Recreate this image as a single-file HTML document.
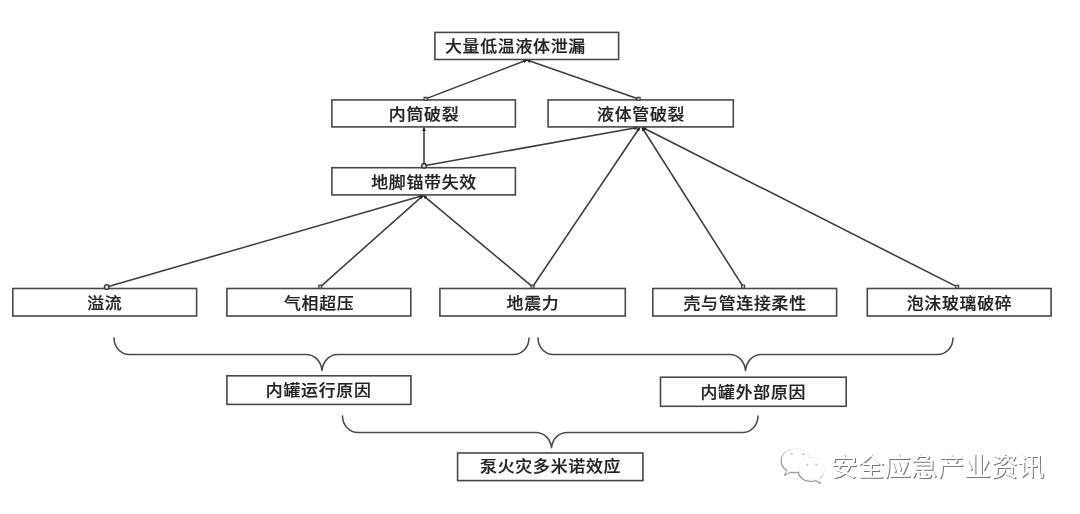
<!DOCTYPE html>
<html lang="zh-CN">
<head>
<meta charset="utf-8">
<title>泵火灾多米诺效应</title>
<style>
html,body{margin:0;padding:0;background:#fff;}
body{width:1080px;height:514px;overflow:hidden;position:relative;font-family:"Liberation Sans","Noto Sans CJK SC",sans-serif;}
svg{position:absolute;left:0;top:0;display:block;}
.bx{fill:#fff;stroke:#484848;stroke-width:1.6;}
.ln{fill:none;stroke:#3c3c3c;stroke-width:1.55;stroke-linecap:butt;marker-end:url(#ah);}
.br{fill:none;stroke:#4c4c4c;stroke-width:1.55;stroke-linecap:round;stroke-linejoin:round;}
.t{font-family:"Liberation Sans","Noto Sans CJK SC",sans-serif;font-size:16.9px;letter-spacing:0.75px;font-weight:500;fill:#222;stroke:#222;stroke-width:0.22px;text-anchor:middle;}
.ci{fill:#ddd;stroke:#333;stroke-width:1.3;}
.sq{fill:#c8c8c8;stroke:#3a3a3a;stroke-width:1.1;}
.wm{font-family:"Liberation Sans","Noto Sans CJK SC",sans-serif;font-size:26.7px;}
</style>
</head>
<body>
<svg width="1080" height="514" viewBox="0 0 1080 514">
<defs>
<marker id="ah" viewBox="0 0 10 10" refX="9.2" refY="5" markerWidth="6.2" markerHeight="3.8" markerUnits="userSpaceOnUse" orient="auto">
<path d="M0,0 L10,5 L0,10 Z" fill="#222"/>
</marker>
<filter id="soft" x="-2%" y="-2%" width="104%" height="104%"><feGaussianBlur stdDeviation="0.45"/></filter>
</defs>
<g id="diagram" filter="url(#soft)">
<g id="lines">
<line class="ln" x1="425.6" y1="98.9" x2="526.9" y2="60.0"/>
<line class="ln" x1="638.6" y1="98.9" x2="526.9" y2="60.0"/>
<line class="ln" x1="424.0" y1="165.8" x2="424.0" y2="127.6"/>
<line class="ln" x1="424.0" y1="165.8" x2="637.6" y2="127.5"/>
<line class="ln" x1="106.7" y1="287.0" x2="423.0" y2="195.6"/>
<line class="ln" x1="320.3" y1="286.8" x2="423.0" y2="195.6"/>
<line class="ln" x1="532.6" y1="286.8" x2="423.4" y2="195.6"/>
<line class="ln" x1="532.6" y1="286.8" x2="639.7" y2="127.5"/>
<line class="ln" x1="743.1" y1="286.7" x2="642.0" y2="127.5"/>
<line class="ln" x1="957.2" y1="286.9" x2="642.6" y2="127.5"/>
</g>
<g id="boxes">
<rect class="bx" x="434.9" y="32.4" width="183.7" height="27.1"/>
<rect class="bx" x="331.9" y="99.9" width="183.5" height="27.0"/>
<rect class="bx" x="548.1" y="99.9" width="185.2" height="27.0"/>
<rect class="bx" x="331.9" y="167.7" width="183.5" height="27.2"/>
<rect class="bx" x="12.8" y="288.5" width="183.8" height="27.5"/>
<rect class="bx" x="226.9" y="288.5" width="183.9" height="27.5"/>
<rect class="bx" x="439.9" y="288.5" width="185.4" height="27.5"/>
<rect class="bx" x="652.8" y="288.5" width="183.8" height="27.5"/>
<rect class="bx" x="867.3" y="288.5" width="183.8" height="27.5"/>
<rect class="bx" x="226.9" y="375.8" width="184.0" height="28.6"/>
<rect class="bx" x="660.5" y="377.2" width="185.7" height="29.1"/>
<rect class="bx" x="457.6" y="453.0" width="185.3" height="27.6"/>
</g>
<g id="markers">
<rect class="sq" x="424.1" y="97.3" width="3" height="3"/>
<rect class="sq" x="637.1" y="97.3" width="3" height="3"/>
<circle class="ci" cx="424.0" cy="165.8" r="2.3"/>
<circle class="ci" cx="106.7" cy="287.0" r="2.3"/>
<rect class="sq" x="318.8" y="285.2" width="3" height="3"/>
<rect class="sq" x="531.1" y="285.2" width="3" height="3"/>
<rect class="sq" x="741.6" y="285.1" width="3" height="3"/>
<rect class="sq" x="955.7" y="285.3" width="3" height="3"/>
</g>
<g id="braces">
<path class="br" d="M114,338 A15.5,16.5 0 0 0 129.5,354.5 L306,354.5 C315,354.5 321,361.5 322,370.4 C323,361.5 329,354.5 338,354.5 L513.5,354.5 A15.5,16.5 0 0 0 529,338"/>
<path class="br" d="M538,338 A15.5,16.5 0 0 0 553.5,354.5 L729.5,354.5 C738.5,354.5 744.5,361.5 745.5,370.4 C746.5,361.5 752.5,354.5 761.5,354.5 L937.5,354.5 A15.5,16.5 0 0 0 953,338"/>
<path class="br" d="M342.5,416 A15.5,16.5 0 0 0 358,432.5 L535.5,432.5 C544.5,432.5 550.5,439 551.5,447.6 C552.5,439 558.5,432.5 567.5,432.5 L742.5,432.5 A15.5,16.5 0 0 0 758,416"/>
</g>
<g id="labels">
<text class="t" transform="translate(515.38,46.4) scale(1,0.93)" y="6.34">大量低温液体泄漏</text>
<text class="t" transform="translate(424.02,114.3) scale(1,0.93)" y="6.34">内筒破裂</text>
<text class="t" transform="translate(641.08,114.3) scale(1,0.93)" y="6.34">液体管破裂</text>
<text class="t" transform="translate(424.02,182.2) scale(1,0.93)" y="6.34">地脚锚带失效</text>
<text class="t" transform="translate(104.78,303.35) scale(1,0.93)" y="6.34">溢流</text>
<text class="t" transform="translate(319.23,303.15) scale(1,0.93)" y="6.34">气相超压</text>
<text class="t" transform="translate(532.97,303.15) scale(1,0.93)" y="6.34">地震力</text>
<text class="t" transform="translate(745.08,303.15) scale(1,0.93)" y="6.34">壳与管连接柔性</text>
<text class="t" transform="translate(959.57,303.15) scale(1,0.93)" y="6.34">泡沫玻璃破碎</text>
<text class="t" transform="translate(318.67,390.6) scale(1,0.93)" y="6.34">内罐运行原因</text>
<text class="t" transform="translate(753.33,391.75) scale(1,0.93)" y="6.34">内罐外部原因</text>
<text class="t" transform="translate(550.62,466.5) scale(1,0.93)" y="6.34">泵火灾多米诺效应</text>
</g>
</g>
<g id="watermark" filter="url(#soft)">
<g fill="none" stroke="#999" stroke-width="1.3" transform="translate(-0.8,0.9)">
<path d="M796,448.5 C788,448.5 782,453.5 782,460 C782,464 784,467.3 787.6,469.4 L785.6,474 L791.2,471.2 C792.7,471.6 794.3,471.8 796,471.8 C804,471.8 810,466.6 810,460 C810,453.5 804,448.5 796,448.5 Z"/>
<path d="M811.5,457.2 C804.3,457.2 798.6,462.3 798.6,468.8 C798.6,475.3 804.3,480.4 811.5,480.4 C813.2,480.4 814.8,480.1 816.3,479.6 L821.2,482.4 L819.8,478 C822.7,475.9 824.4,472.6 824.4,468.8 C824.4,462.3 818.7,457.2 811.5,457.2 Z"/>
</g>
<g fill="#fff" stroke="#e4e4e4" stroke-width="0.5">
<path d="M796,448.5 C788,448.5 782,453.5 782,460 C782,464 784,467.3 787.6,469.4 L785.6,474 L791.2,471.2 C792.7,471.6 794.3,471.8 796,471.8 C804,471.8 810,466.6 810,460 C810,453.5 804,448.5 796,448.5 Z"/>
<path d="M811.5,457.2 C804.3,457.2 798.6,462.3 798.6,468.8 C798.6,475.3 804.3,480.4 811.5,480.4 C813.2,480.4 814.8,480.1 816.3,479.6 L821.2,482.4 L819.8,478 C822.7,475.9 824.4,472.6 824.4,468.8 C824.4,462.3 818.7,457.2 811.5,457.2 Z"/>
</g>
<g fill="#d0d0d0">
<circle cx="791.7" cy="454" r="1.3"/><circle cx="803.5" cy="454" r="1.3"/>
<circle cx="807.3" cy="464.8" r="1.2"/><circle cx="816.3" cy="464.8" r="1.2"/>
</g>
<text class="wm" x="831.8" y="476.6" fill="#777">安全应急产业资讯</text>
<text class="wm" x="830.8" y="475.6" fill="#fff">安全应急产业资讯</text>
</g>
</svg>
</body>
</html>
